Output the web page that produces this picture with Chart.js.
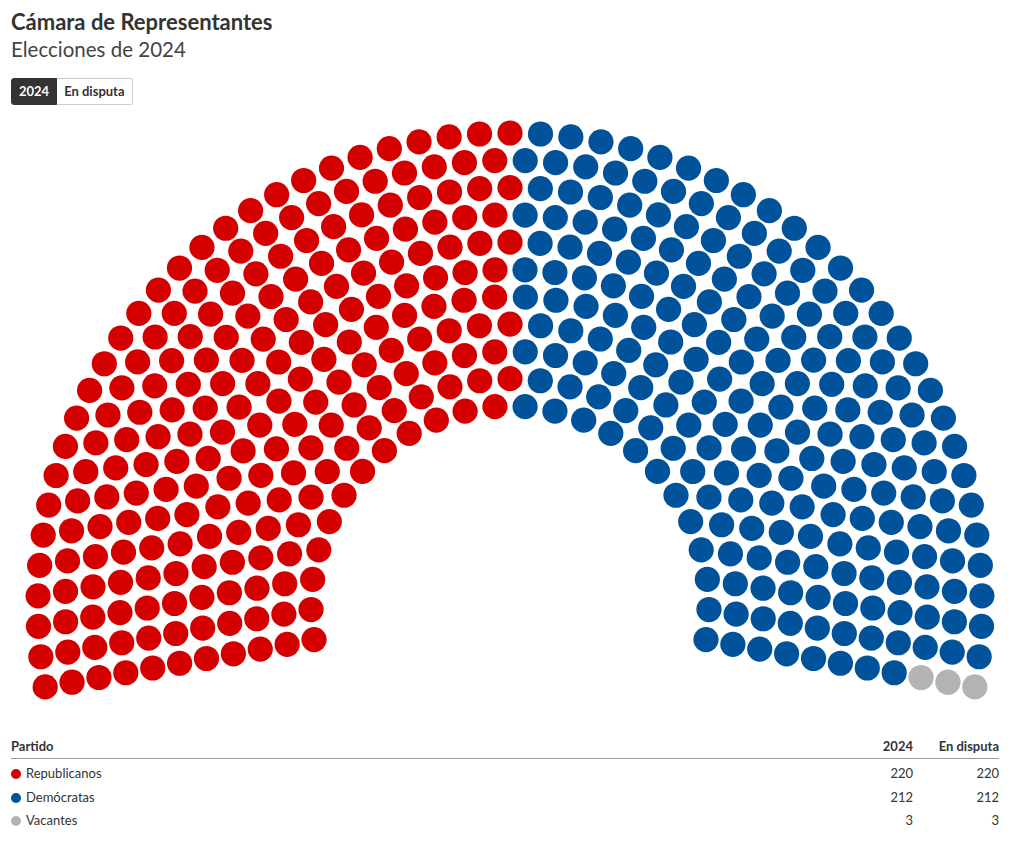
<!DOCTYPE html>
<html lang="es">
<head>
<meta charset="utf-8">
<title>Cámara de Representantes</title>
<script src="https://cdn.jsdelivr.net/npm/chart.js@4.4.1/dist/chart.umd.min.js"></script>
<style>
  html, body { margin: 0; padding: 0; background: #fff; }
  body { font-family: Lato, "Noto Sans", sans-serif; color: #333; width: 1020px; height: 842px; position: relative; overflow: hidden; }
  .title { position: absolute; left: 11px; top: 8px; font-size: 22px; font-weight: 700; color: #333; white-space: nowrap; }
  .subtitle { position: absolute; left: 11px; top: 37px; font-size: 20.5px; font-weight: 400; color: #444; white-space: nowrap; }
  .buttons { position: absolute; left: 11px; top: 78px; display: flex; height: 27px; }
  .btn { box-sizing: border-box; height: 27px; line-height: 25px; padding: 0 7px; font-size: 13px; font-weight: 700; border: 1px solid #ccc; background: #fff; color: #333; }
  .btn.active { background: #333; border-color: #333; color: #fff; border-radius: 3px 0 0 3px; }
  .btn:last-child { border-left: none; border-radius: 0 3px 3px 0; }
  #chart-wrap { position: absolute; left: 0; top: 115px; width: 1020px; height: 600px; }
  #legend { position: absolute; left: 11px; top: 736px; width: 988px; font-size: 13px; }
  .row { position: relative; height: 23.5px; line-height: 23.5px; }
  .head { font-weight: 700; height: 22px; line-height: 20px; border-bottom: 1px solid #999; }
  .cell { position: absolute; top: 0; }
  .name { left: 0; }
  .dot { display: inline-block; width: 10px; height: 10px; border-radius: 50%; margin-right: 5px; vertical-align: -1px; }
  .c1 { right: 86px; text-align: right; }
  .c2 { right: 0; text-align: right; }
</style>
</head>
<body>
<div class="title">Cámara de Representantes</div>
<div class="subtitle">Elecciones de 2024</div>
<div class="buttons"><span class="btn active">2024</span><span class="btn">En disputa</span></div>
<div id="chart-wrap"><canvas id="seats"></canvas></div>
<div id="legend"></div>

<script>
// Seat data
const parties = ['Republicanos', 'Demócratas', 'Vacantes'];
const seats2024 = [220, 212, 3];
const seatsDisputa = [220, 212, 3];
const columnLabels = ['Partido', '2024', 'En disputa'];
const partyColors = ['#d40000', '#00529b', '#b3b3b3'];

// Chamber layout (canvas units = pixels, centre of the hemicycle at 0,0)
const ROWS = 11;
const INNER_R = 199;
const OUTER_R = 472;
const ARC_START = 190;   // degrees, left end
const ARC_END = -10;     // degrees, right end
const SEAT_R = 12.6;

function seatsPerRow(total) {
    const radii = [];
    for (let i = 0; i < ROWS; i++) radii.push(INNER_R + i * (OUTER_R - INNER_R) / (ROWS - 1));
    const sumR = radii.reduce((a, b) => a + b, 0);
    const k = (total - ROWS) / sumR;
    const raw = radii.map(r => 1 + k * r);
    const counts = raw.map(Math.floor);
    let left = total - counts.reduce((a, b) => a + b, 0);
    const order = raw.map((v, i) => [v - Math.floor(v), i]).sort((a, b) => b[0] - a[0]);
    for (let j = 0; j < left; j++) counts[order[j][1]]++;
    return { radii, counts };
}

function buildSeats(values) {
    const total = values.reduce((a, b) => a + b, 0);
    const { radii, counts } = seatsPerRow(total);
    const seats = [];
    radii.forEach((r, row) => {
        const n = counts[row];
        for (let j = 0; j < n; j++) {
            const deg = ARC_START - j * (ARC_START - ARC_END) / (n - 1);
            seats.push({ row, r, deg: Math.round(deg * 1e6) / 1e6 });
        }
    });
    seats.sort((a, b) => (b.deg - a.deg) || (a.row - b.row));

    const byParty = values.map(() => []);
    let idx = 0;
    values.forEach((v, p) => {
        for (let s = 0; s < v; s++, idx++) {
            const seat = seats[idx];
            const a = seat.deg * Math.PI / 180;
            byParty[p].push({ x: seat.r * Math.cos(a), y: seat.r * Math.sin(a) });
        }
    });
    return byParty;
}

const seatPoints = buildSeats(seats2024);

new Chart(document.getElementById('seats'), {
    type: 'scatter',
    data: {
        datasets: parties.map((name, i) => ({
            label: name,
            data: seatPoints[i],
            backgroundColor: partyColors[i],
            pointRadius: SEAT_R,
            pointHoverRadius: SEAT_R,
            pointBorderWidth: 0,
            borderWidth: 0
        }))
    },
    options: {
        responsive: true,
        maintainAspectRatio: false,
        animation: false,
        layout: { padding: 0, autoPadding: false },
        plugins: { legend: { display: false }, tooltip: { enabled: false } },
        scales: {
            x: { type: 'linear', display: false, min: -510, max: 510 },
            y: { type: 'linear', display: false, min: -110, max: 490 }
        }
    }
});

// Table under the chart
const legend = document.getElementById('legend');
legend.innerHTML = `
    <div class="row head">
        <span class="cell name">${columnLabels[0]}</span>
        <span class="cell c1">${columnLabels[1]}</span>
        <span class="cell c2">${columnLabels[2]}</span>
    </div>
    <div style="height:3px"></div>
    ${parties.map((name, i) => `
    <div class="row">
        <span class="cell name"><span class="dot" style="background:${partyColors[i]}"></span>${name}</span>
        <span class="cell c1">${seats2024[i]}</span>
        <span class="cell c2">${seatsDisputa[i]}</span>
    </div>`).join('')}
`;
</script>
</body>
</html>
